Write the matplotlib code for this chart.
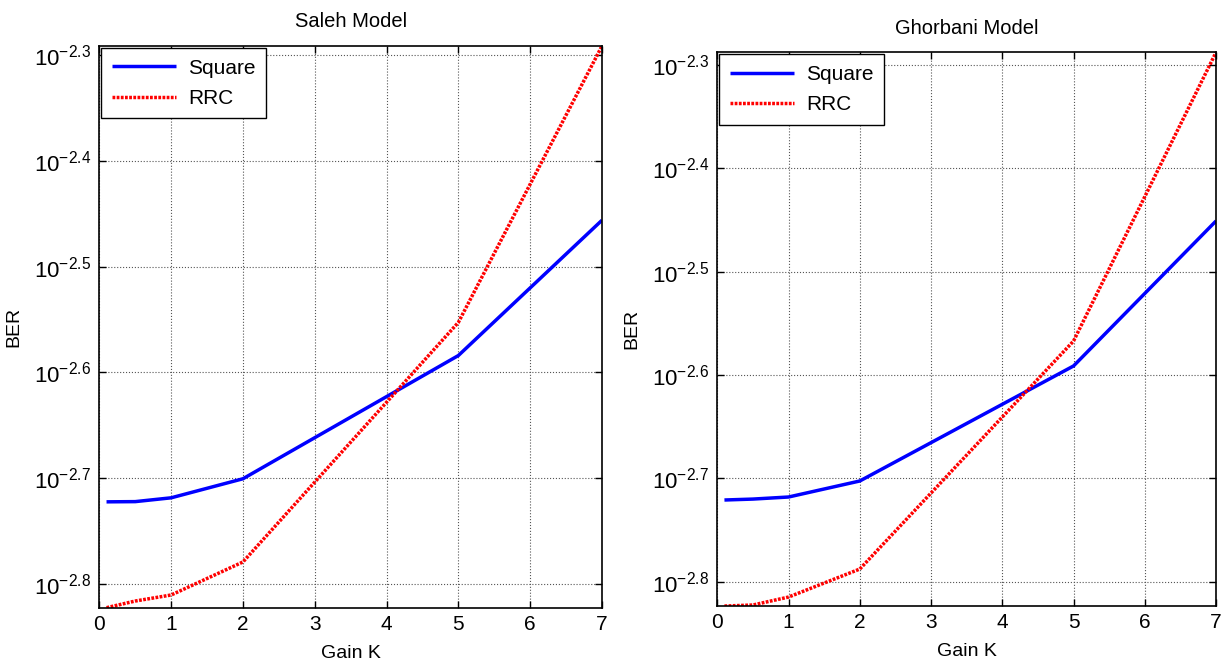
import numpy as np
import matplotlib
matplotlib.use("Agg")
import matplotlib.pyplot as plt
from matplotlib.ticker import FixedLocator, FuncFormatter

plt.rcParams['font.family'] = ['Liberation Sans', 'DejaVu Sans']
plt.rcParams['mathtext.fontset'] = 'custom'
plt.rcParams['mathtext.rm'] = 'Liberation Sans'
plt.rcParams['mathtext.it'] = 'Liberation Sans'

gain_k = [0.1, 0.5, 1, 2, 5, 7]

# exponents of BER (BER = 10**exp)
saleh_square_exp = [-2.7222, -2.7220, -2.7184, -2.7004, -2.5840, -2.4562]
saleh_rrc_exp = [-2.8222, -2.8159, -2.8102, -2.7790, -2.5527, -2.2916]
ghorbani_square_exp = [-2.7209, -2.7200, -2.7180, -2.7025, -2.5912, -2.4509]
ghorbani_rrc_exp = [-2.8235, -2.8225, -2.8148, -2.7877, -2.5671, -2.2877]

ytick_exps = [-2.8, -2.7, -2.6, -2.5, -2.4, -2.3]
xticks = [0, 1, 2, 3, 4, 5, 6, 7]

panels = [
    ("Saleh Model", saleh_square_exp, saleh_rrc_exp,
     [0.0813, 0.0848, 0.4113, 0.8459], (-2.8222, -2.2916), 14),
    ("Ghorbani Model", ghorbani_square_exp, ghorbani_rrc_exp,
     [0.5870, 0.0873, 0.4081, 0.8339], (-2.8235, -2.2877), 13),
]

fig = plt.figure(figsize=(12.22, 6.64), dpi=100)

for title, sq, rrc, rect, ylim, tpad in panels:
    ax = fig.add_axes(rect)
    ax.set_yscale('log')
    ax.plot(gain_k, [10**e for e in sq], color='#0000ff', lw=2.5,
            solid_capstyle='butt', label='Square')
    ax.plot(gain_k, [10**e for e in rrc], color='#ff0000', lw=2.5,
            linestyle=(0, (0.8, 0.4)), label='RRC')
    ax.set_xlim(0, 7)
    ax.set_ylim(10**ylim[0], 10**ylim[1])
    ax.yaxis.set_major_locator(FixedLocator([10**e for e in ytick_exps]))
    ax.yaxis.set_minor_locator(FixedLocator([]))
    ax.yaxis.set_major_formatter(FuncFormatter(
        lambda v, p: r'$10^{%.1f}$' % np.log10(v)))
    ax.set_xticks(xticks)
    ax.tick_params(axis='both', which='major', direction='in', top=True,
                   right=True, length=5, width=1, labelsize=15, pad=5)
    ax.tick_params(axis='y', labelsize=16, pad=6)
    ax.grid(True, which='major', color='#555555', linestyle=':', lw=0.8)
    for s in ax.spines.values():
        s.set_linewidth(1.2)
    ax.set_title(title, fontsize=14.5, pad=tpad)
    ax.set_xlabel('Gain K', fontsize=14, labelpad=8)
    ax.set_ylabel('BER', fontsize=14, labelpad=8)
    leg = ax.legend(loc='upper left', fontsize=15, frameon=True, fancybox=False,
                    edgecolor='black', borderaxespad=0.1, handlelength=3.1,
                    borderpad=0.5, labelspacing=0.55, handletextpad=0.55)
    leg.get_frame().set_linewidth(1.0)
    leg.get_frame().set_alpha(1.0)

fig.savefig('out.png', dpi=100)
